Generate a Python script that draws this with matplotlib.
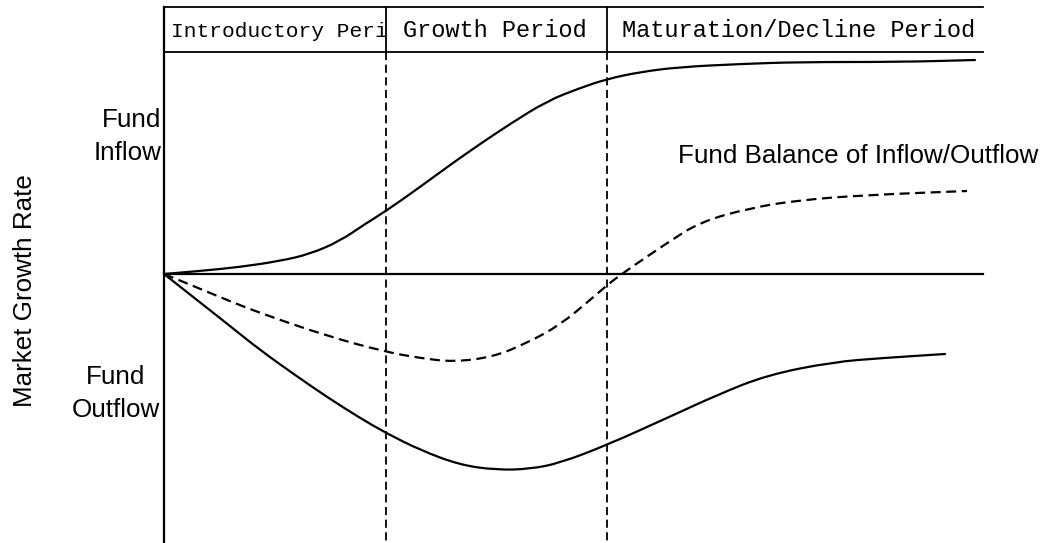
import matplotlib
matplotlib.use("Agg")
import matplotlib.pyplot as plt
from matplotlib.patches import Rectangle, PathPatch
from matplotlib.path import Path

# ---- data (x = time position, y = growth-rate value; 0 = balance line) ----
period_labels = ["Introductory Period", "Growth Period", "Maturation/Decline Period"]
period_bounds = [164, 386, 607, 983]

inflow_x = [164, 200, 240, 280, 310, 340, 365, 386, 420, 450, 480, 510, 547, 580, 607,
            640, 680, 740, 800, 900, 975]
inflow_y = [0, 3, 7, 13, 20, 33, 50, 63, 87, 109, 130, 150, 173, 186, 195,
            202, 207, 210, 212, 212, 214]

outflow_x = [164, 197, 230, 260, 295, 327, 360, 386, 420, 460, 497, 530, 560, 607,
             667, 717, 767, 833, 883, 945]
outflow_y = [0, -26, -52, -76, -101, -123, -144, -159, -176, -191, -196, -195, -189, -171,
             -144, -121, -101, -88, -84, -80]

balance_x = [164, 180, 227, 260, 327, 386, 420, 453, 493, 527, 560, 590, 605, 620,
             667, 700, 750, 800, 867, 967]
balance_y = [0, -6.5, -26, -39, -62, -78, -84, -88, -83, -69, -51, -26, -13, -1,
             31, 52, 66, 74, 79, 83]

y_label = "Market Growth Rate"
inflow_label = ["Fund", "Inflow"]
outflow_label = ["Fund", "Outflow"]
balance_label = "Fund Balance of Inflow/Outflow"

# ---- layout ----
fig = plt.figure(figsize=(10.55, 5.43), dpi=100)
ax = fig.add_axes([0, 0, 1, 1])
ax.set_xlim(0, 1055)
ax.set_ylim(-269, 274)
ax.axis("off")

lw = 1.6
dash = (0, (4.5, 2.5))
top, head_bot, bottom = 267, 222, -269


def smooth_curve(xs, ys, **kw):
    """Draw a smooth quadratic-Bezier curve using the points as control points."""
    verts = [(xs[0], ys[0])]
    codes = [Path.MOVETO]
    for i in range(1, len(xs) - 1):
        verts.append((xs[i], ys[i]))
        verts.append(((xs[i] + xs[i + 1]) / 2, (ys[i] + ys[i + 1]) / 2))
        codes += [Path.CURVE3, Path.CURVE3]
    verts.append((xs[-1], ys[-1]))
    codes.append(Path.LINETO)
    ax.add_patch(PathPatch(Path(verts, codes), fill=False, edgecolor="black",
                           transform=ax.transData, **kw))


# header box
ax.plot([period_bounds[0], period_bounds[-1]], [top, top], color="black", lw=1.3)
ax.plot([period_bounds[0], period_bounds[-1]], [head_bot, head_bot], color="black", lw=1.3)
for xb in period_bounds[1:3]:
    ax.plot([xb, xb], [top, head_bot], color="black", lw=1.3)
    ax.plot([xb, xb], [head_bot, bottom], color="black", lw=1.3, linestyle=dash)

# vertical axis and zero line
ax.plot([period_bounds[0], period_bounds[0]], [top, bottom], color="black", lw=lw)
ax.plot([period_bounds[0], period_bounds[-1]], [0, 0], color="black", lw=lw)

# curves
smooth_curve(inflow_x, inflow_y, lw=lw, capstyle="round")
smooth_curve(outflow_x, outflow_y, lw=lw, capstyle="round")
smooth_curve(balance_x, balance_y, lw=lw, linestyle=dash)

# header texts
head_sizes = [15.3, 17, 17]
text_x = [171, 403, 622]
for i, lab in enumerate(period_labels):
    t = ax.text(text_x[i], 237, lab, ha="left", va="baseline", family="Liberation Mono",
                fontsize=head_sizes[i], color="black")
    cell = Rectangle((period_bounds[i], head_bot), period_bounds[i + 1] - period_bounds[i],
                     top - head_bot, transform=ax.transData, fill=False)
    t.set_clip_path(cell)
    t.set_clip_on(True)

sans = dict(family="Liberation Sans", fontsize=18.7, color="black", va="baseline")
ax.text(161, 147, inflow_label[0], ha="right", **sans)
ax.text(161, 114, inflow_label[1], ha="right", **sans)
ax.text(116, -110, outflow_label[0], ha="center", **sans)
ax.text(116, -143, outflow_label[1], ha="center", **sans)
ax.text(678, 111, balance_label, ha="left", **sans)
ax.text(32, -17, y_label, ha="center", rotation=90, rotation_mode="anchor", **sans)

fig.savefig("out.png", dpi=100, facecolor="white")
